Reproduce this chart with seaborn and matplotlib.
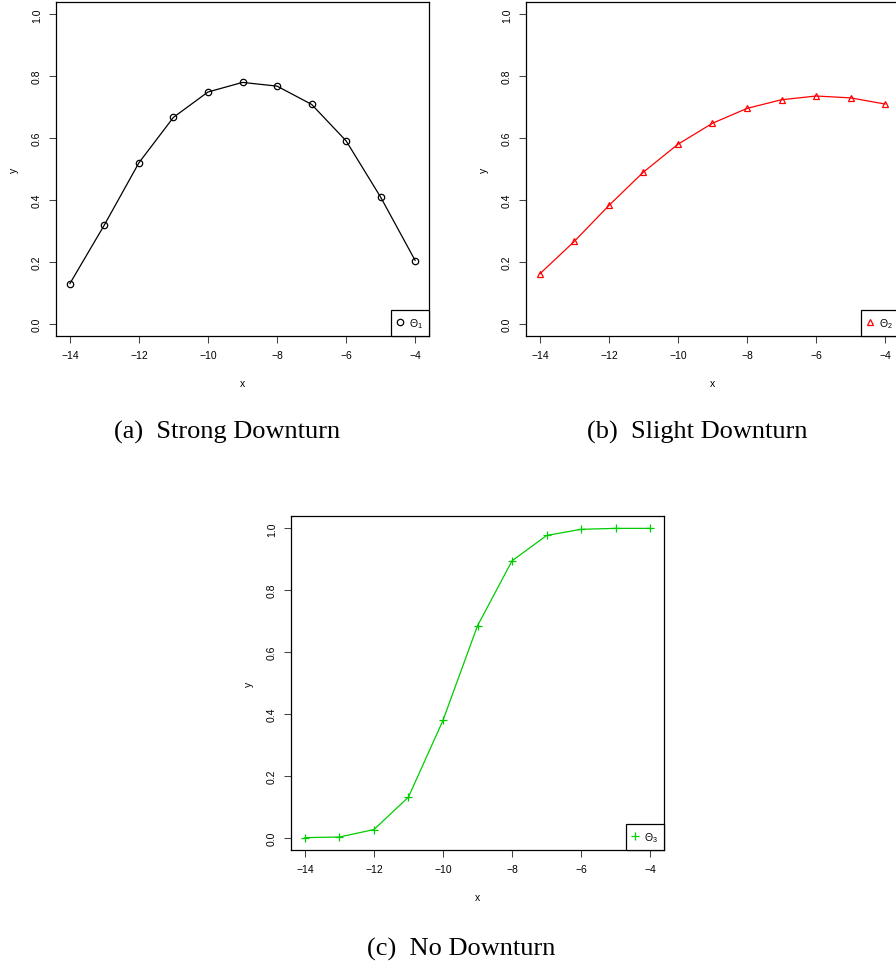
"""Three R-style response curves (strong / slight / no downturn) with subfigure captions."""

import matplotlib

matplotlib.use("Agg")
import matplotlib.pyplot as plt  # noqa: E402
from matplotlib.lines import Line2D  # noqa: E402
import seaborn as sns  # noqa: E402

X = [-14, -13, -12, -11, -10, -9, -8, -7, -6, -5, -4]
Y_STRONG = [0.129, 0.319, 0.520, 0.667, 0.749, 0.780, 0.768, 0.709, 0.591, 0.409, 0.204]
Y_SLIGHT = [0.161, 0.266, 0.382, 0.490, 0.580, 0.648, 0.696, 0.724, 0.736, 0.730, 0.710]
Y_NONE = [0.000, 0.002, 0.026, 0.131, 0.379, 0.685, 0.895, 0.977, 0.997, 1.000, 1.000]

X_TICKS = [-14, -12, -10, -8, -6, -4]
Y_TICKS = [0.0, 0.2, 0.4, 0.6, 0.8, 1.0]
CAPTIONS = ["(a)  Strong Downturn", "(b)  Slight Downturn", "(c)  No Downturn"]
LEGEND_LABELS = [r"$\Theta_1$", r"$\Theta_2$", r"$\Theta_3$"]

sns.set_style("ticks")
plt.rcParams["font.family"] = ["Liberation Sans", "DejaVu Sans"]
plt.rcParams["mathtext.fontset"] = "custom"
plt.rcParams["mathtext.rm"] = "Liberation Sans"
plt.rcParams["mathtext.it"] = "Liberation Sans:italic"
for key in ["text.color", "axes.labelcolor", "xtick.labelcolor", "ytick.labelcolor"]:
    plt.rcParams[key] = "black"

W, H = 896, 970
fig = plt.figure(figsize=(W / 100, H / 100), dpi=100)


def panel(rect, ys, color, marker, label):
    """One R-like panel; rect = (left px, bottom px) of the plot box."""
    ax = fig.add_axes([rect[0] / W, 1 - rect[1] / H, 373 / W, 334 / H])
    filled = marker == "+"
    msize = 6 if filled else 4.6
    face = color if filled else "none"
    sns.lineplot(x=X, y=ys, ax=ax, color=color, lw=0.9, marker=marker,
                 markersize=msize, markerfacecolor=face,
                 markeredgecolor=color, markeredgewidth=0.9)
    ax.set_xlim(-14.4, -3.6)
    ax.set_ylim(-0.04, 1.04)
    ax.set_xticks(X_TICKS)
    ax.set_yticks(Y_TICKS)
    ax.set_yticklabels([f"{v:.1f}" for v in Y_TICKS], rotation=90, va="center")
    ax.tick_params(length=5, width=0.75, color="#444444", labelsize=7.5, pad=5)
    for s in ax.spines.values():
        s.set_linewidth(0.9); s.set_color("black")
    ax.set_xlabel("x", fontsize=7.5); ax.set_ylabel("y", fontsize=7.5)
    ax.xaxis.set_label_coords(0.5, -0.125)
    ax.yaxis.set_label_coords(-0.1, 0.5)

    h = Line2D([], [], ls="none", marker=marker, color=color, markerfacecolor=face,
               markersize=msize, markeredgewidth=0.9)
    leg = ax.legend([h], [label], loc="lower right", borderaxespad=0, fancybox=False,
                    edgecolor="black", framealpha=1, fontsize=7.5, handlelength=0.6,
                    handletextpad=0.55, borderpad=0.6)
    leg.get_frame().set_linewidth(0.9)
    return ax


panel((56, 337), Y_STRONG, "black", "o", LEGEND_LABELS[0])
panel((526, 337), Y_SLIGHT, "#FF0000", "^", LEGEND_LABELS[1])
panel((291, 851), Y_NONE, "#00CD00", "+", LEGEND_LABELS[2])

for (cx, by), text in zip([(227, 439), (697, 439), (461, 956)], CAPTIONS):
    fig.text(cx / W, 1 - by / H, text, ha="center", va="baseline", color="black",
             family=["Liberation Serif", "DejaVu Serif"], fontsize=19)

fig.savefig("out.png", dpi=100)
plt.close(fig)
